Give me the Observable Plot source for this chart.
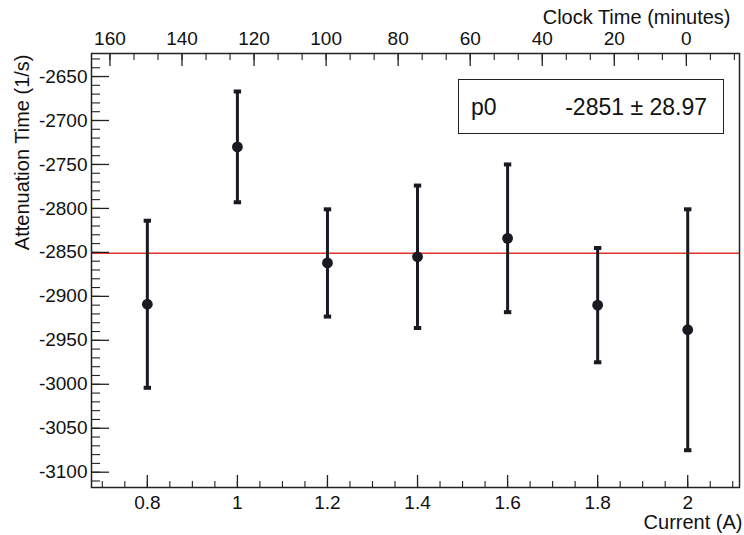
<!DOCTYPE html>
<html>
<head>
<meta charset="utf-8">
<script src="https://cdn.jsdelivr.net/npm/d3@7"></script>
<script src="https://cdn.jsdelivr.net/npm/@observablehq/plot@0.6"></script>
<style>
  html, body { margin: 0; padding: 0; background: white; }
  #wrap { position: relative; width: 744px; height: 535px; font-family: "Liberation Sans", Arial, Helvetica, sans-serif; color: #111; }
  #stats { position: absolute; left: 458px; top: 79px; width: 264px; height: 53px; border: 1.5px solid #222; background: white; box-sizing: content-box; }
  #stats .name { position: absolute; left: 12px; top: 50%; transform: translateY(-50%); font-size: 23px; }
  #stats .val { position: absolute; right: 16px; top: 50%; transform: translateY(-50%); font-size: 23px; }
</style>
</head>
<body>
<div id="wrap"></div>
<script>
// ---- data ----
const currents    = [0.8, 1.0, 1.2, 1.4, 1.6, 1.8, 2.0];
const attenuation = [-2909, -2730, -2862, -2855, -2834, -2910, -2938];
const errors      = [95, 63, 61, 81, 84, 65, 137];

const fitName = "p0";
const fitP0 = -2851;
const fitErr = 28.97;

const yTicks = [-3100, -3050, -3000, -2950, -2900, -2850, -2800, -2750, -2700, -2650];
const xTicks = [0.8, 1.0, 1.2, 1.4, 1.6, 1.8, 2.0];
const xTickLabels = ["0.8", "1", "1.2", "1.4", "1.6", "1.8", "2"];
const clockTicks = [160, 140, 120, 100, 80, 60, 40, 20, 0];

// top axis: clock time (minutes) mapped onto current axis
const clockOffset = 1.997;   // current at clock time 0
const clockSlope = 0.008;    // current per minute (decreasing)
const clockToX = t => clockOffset - clockSlope * t;

const xDomain = [0.676, 2.115];
const yDomain = [-3117.4, -2623.8];

// ---- build ----
const rows = currents.map((c, i) => ({
  current: c, value: attenuation[i],
  lo: attenuation[i] - errors[i], hi: attenuation[i] + errors[i]
}));

const W = 744, H = 535;
const mL = 91, mR = 5, mT = 53, mB = 48;
const plotW = W - mL - mR, plotH = H - mT - mB;

const yMinor = d3.range(-3110, -2620, 10);
const xMinor = d3.range(0.70, 2.1001, 0.05);
const clockMinor = d3.range(-2, 25).map(k => k * 20 / 3);

const ink = "#1a1a22";
const cap = { draw(ctx) { ctx.rect(-3.7, -2, 7.4, 4); } };

const chart = Plot.plot({
  width: W, height: H,
  marginLeft: mL, marginRight: mR, marginTop: mT, marginBottom: mB,
  x: { domain: xDomain, axis: null },
  y: { domain: yDomain, axis: null },
  style: { background: "white", fontFamily: "Liberation Sans, Arial, Helvetica, sans-serif", color: "#111", overflow: "visible" },
  marks: [
    // fit line
    Plot.ruleY([fitP0], { y: d => d, stroke: "#e5332a", strokeWidth: 1.6 }),
    // left axis ticks
    Plot.tickY(yTicks, { y: d => d, insetRight: plotW - 18, stroke: "#222", strokeWidth: 1.3 }),
    Plot.tickY(yMinor, { y: d => d, insetRight: plotW - 9, stroke: "#222", strokeWidth: 1.1 }),
    // bottom axis ticks
    Plot.tickX(xTicks, { x: d => d, insetTop: plotH - 12, stroke: "#222", strokeWidth: 1.3 }),
    Plot.tickX(xMinor, { x: d => d, insetTop: plotH - 6, stroke: "#222", strokeWidth: 1.1 }),
    // top axis ticks (clock time)
    Plot.tickX(clockTicks, { x: d => clockToX(d), insetBottom: plotH - 13, stroke: "#222", strokeWidth: 1.3 }),
    Plot.tickX(clockMinor.filter(t => clockToX(t) > xDomain[0] && clockToX(t) < xDomain[1]), { x: d => clockToX(d), insetBottom: plotH - 7, stroke: "#222", strokeWidth: 1.1 }),
    Plot.frame({ stroke: "#222", strokeWidth: 1.5 }),
    // error bars
    Plot.ruleX(rows, { x: "current", y1: "lo", y2: "hi", stroke: ink, strokeWidth: 3 }),
    Plot.dot(rows, { x: "current", y: "lo", symbol: cap, r: 3, fill: ink, stroke: null }),
    Plot.dot(rows, { x: "current", y: "hi", symbol: cap, r: 3, fill: ink, stroke: null }),
    Plot.dot(rows, { x: "current", y: "value", r: 5.4, fill: ink, stroke: null }),
    // tick labels
    Plot.text(yTicks, { y: d => d, text: d => String(d), frameAnchor: "left", dx: -4, textAnchor: "end", lineAnchor: "middle", fontSize: 19, fill: "#111" }),
    Plot.text(xTicks, { x: d => d, text: (d, i) => xTickLabels[i], frameAnchor: "bottom", dy: 15, lineAnchor: "middle", fontSize: 19, fill: "#111" }),
    Plot.text(clockTicks, { x: d => clockToX(d), text: d => String(d), frameAnchor: "top", dy: -15, lineAnchor: "middle", fontSize: 19, fill: "#111" }),
    // axis titles
    Plot.text(["Current (A)"], { frameAnchor: "bottom-right", dx: 3, dy: 35, textAnchor: "end", lineAnchor: "middle", fontSize: 20, fill: "#111" }),
    Plot.text(["Clock Time (minutes)"], { frameAnchor: "top-right", dx: -9, dy: -36, textAnchor: "end", lineAnchor: "middle", fontSize: 20, fill: "#111" }),
    Plot.text(["Attenuation Time (1/s)"], { frameAnchor: "top-left", dx: -69, dy: 1, rotate: -90, textAnchor: "end", lineAnchor: "middle", fontSize: 20, fill: "#111" })
  ]
});

const wrap = document.getElementById("wrap");
wrap.appendChild(chart);

const box = document.createElement("div");
box.id = "stats";
box.innerHTML = `<span class="name">${fitName}</span><span class="val">${fitP0} \u00B1 ${fitErr}</span>`;
wrap.appendChild(box);
</script>
</body>
</html>
